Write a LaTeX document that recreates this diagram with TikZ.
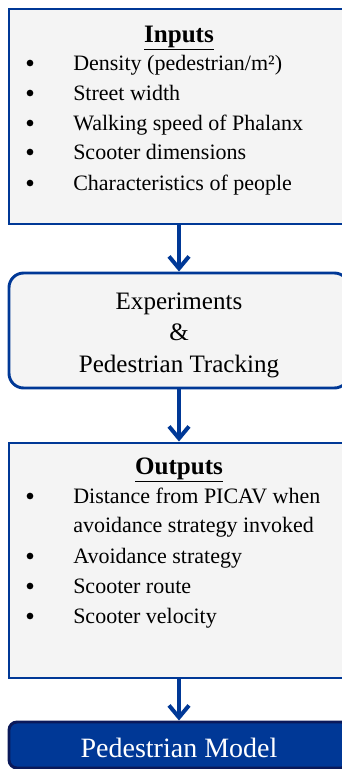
\documentclass[tikz,border=0pt]{standalone}
\usepackage{fontspec}
\setmainfont{Liberation Serif}
\usetikzlibrary{arrows.meta}
\definecolor{flowblue}{RGB}{0,56,150}
\definecolor{navyedge}{RGB}{10,25,90}
\definecolor{panelgray}{RGB}{244,244,244}
\tikzset{
  panel/.style = {draw = flowblue, fill = panelgray, line width = 2.2pt, minimum width = 255pt, inner sep = 0pt},
  modelbox/.style = {draw = navyedge, fill = flowblue, line width = 2.2pt, minimum width = 255pt, inner sep = 0pt, rounded corners = 6pt},
  flowarrow/.style = {draw = flowblue, line width = 3pt, -{Straight Barb[length = 9pt, width = 15pt]}},
  headtext/.style = {anchor = base, inner sep = 0pt, font = \fontsize{18.8}{22}\selectfont},
  bodytext/.style = {anchor = base west, inner sep = 0pt, font = \fontsize{16.5}{20}\selectfont},
  dot/.style = {circle, fill = black, inner sep = 0pt, minimum size = 5pt}
}
\begin{document}
\begin{tikzpicture}[x = 0.75pt, y = -0.75pt]
  \useasboundingbox (0, 0) rectangle (342, 769);
  % boxes
  \node [panel, minimum height = 161.25pt] (inputs) at (179, 116.5) {};
  \node [panel, minimum height = 86.25pt, rounded corners = 11pt] (exper) at (179, 330.5) {};
  \node [panel, minimum height = 176.25pt] (outputs) at (179, 560.5) {};
  \node [modelbox, minimum height = 34.5pt] (model) at (179, 745) {};
  % arrows
  \draw [flowarrow] (inputs.south) -- (exper.north);
  \draw [flowarrow] (exper.south) -- (outputs.north);
  \draw [flowarrow] (outputs.south) -- (model.north);
  % inputs
  \node [headtext] (intitle) at (179, 42) {\underline{\textbf{Inputs}}};
  \node [dot] (ind1) at (30, 63) {};
  \node [bodytext] (in1) at (73, 70) {Density (pedestrian/m²)};
  \node [dot] (ind2) at (30, 93) {};
  \node [bodytext] (in2) at (73, 100) {Street width};
  \node [dot] (ind3) at (30, 123) {};
  \node [bodytext] (in3) at (73, 130) {Walking speed of Phalanx};
  \node [dot] (ind4) at (30, 152) {};
  \node [bodytext] (in4) at (73, 159) {Scooter dimensions};
  \node [dot] (ind5) at (30, 183) {};
  \node [bodytext] (in5) at (73, 190) {Characteristics of people};
  % experiments
  \node [headtext] (ex1) at (179, 309) {Experiments};
  \node [headtext] (ex2) at (179, 340) {\&};
  \node [headtext] (ex3) at (179, 372) {Pedestrian Tracking};
  % outputs
  \node [headtext] (outtitle) at (179, 474) {\underline{\textbf{Outputs}}};
  \node [dot] (outd1) at (30, 496) {};
  \node [bodytext] (out1) at (73, 503) {Distance from PICAV when};
  \node [bodytext] (out1b) at (73, 532) {avoidance strategy invoked};
  \node [dot] (outd2) at (30, 556) {};
  \node [bodytext] (out2) at (73, 563) {Avoidance strategy};
  \node [dot] (outd3) at (30, 586) {};
  \node [bodytext] (out3) at (73, 593) {Scooter route};
  \node [dot] (outd4) at (30, 616) {};
  \node [bodytext] (out4) at (73, 623) {Scooter velocity};
  % model
  \node [anchor = base, inner sep = 0pt, text = white, font = \fontsize{21}{24}\selectfont] (modeltext) at (179, 757) {Pedestrian Model};
\end{tikzpicture}
\end{document}
